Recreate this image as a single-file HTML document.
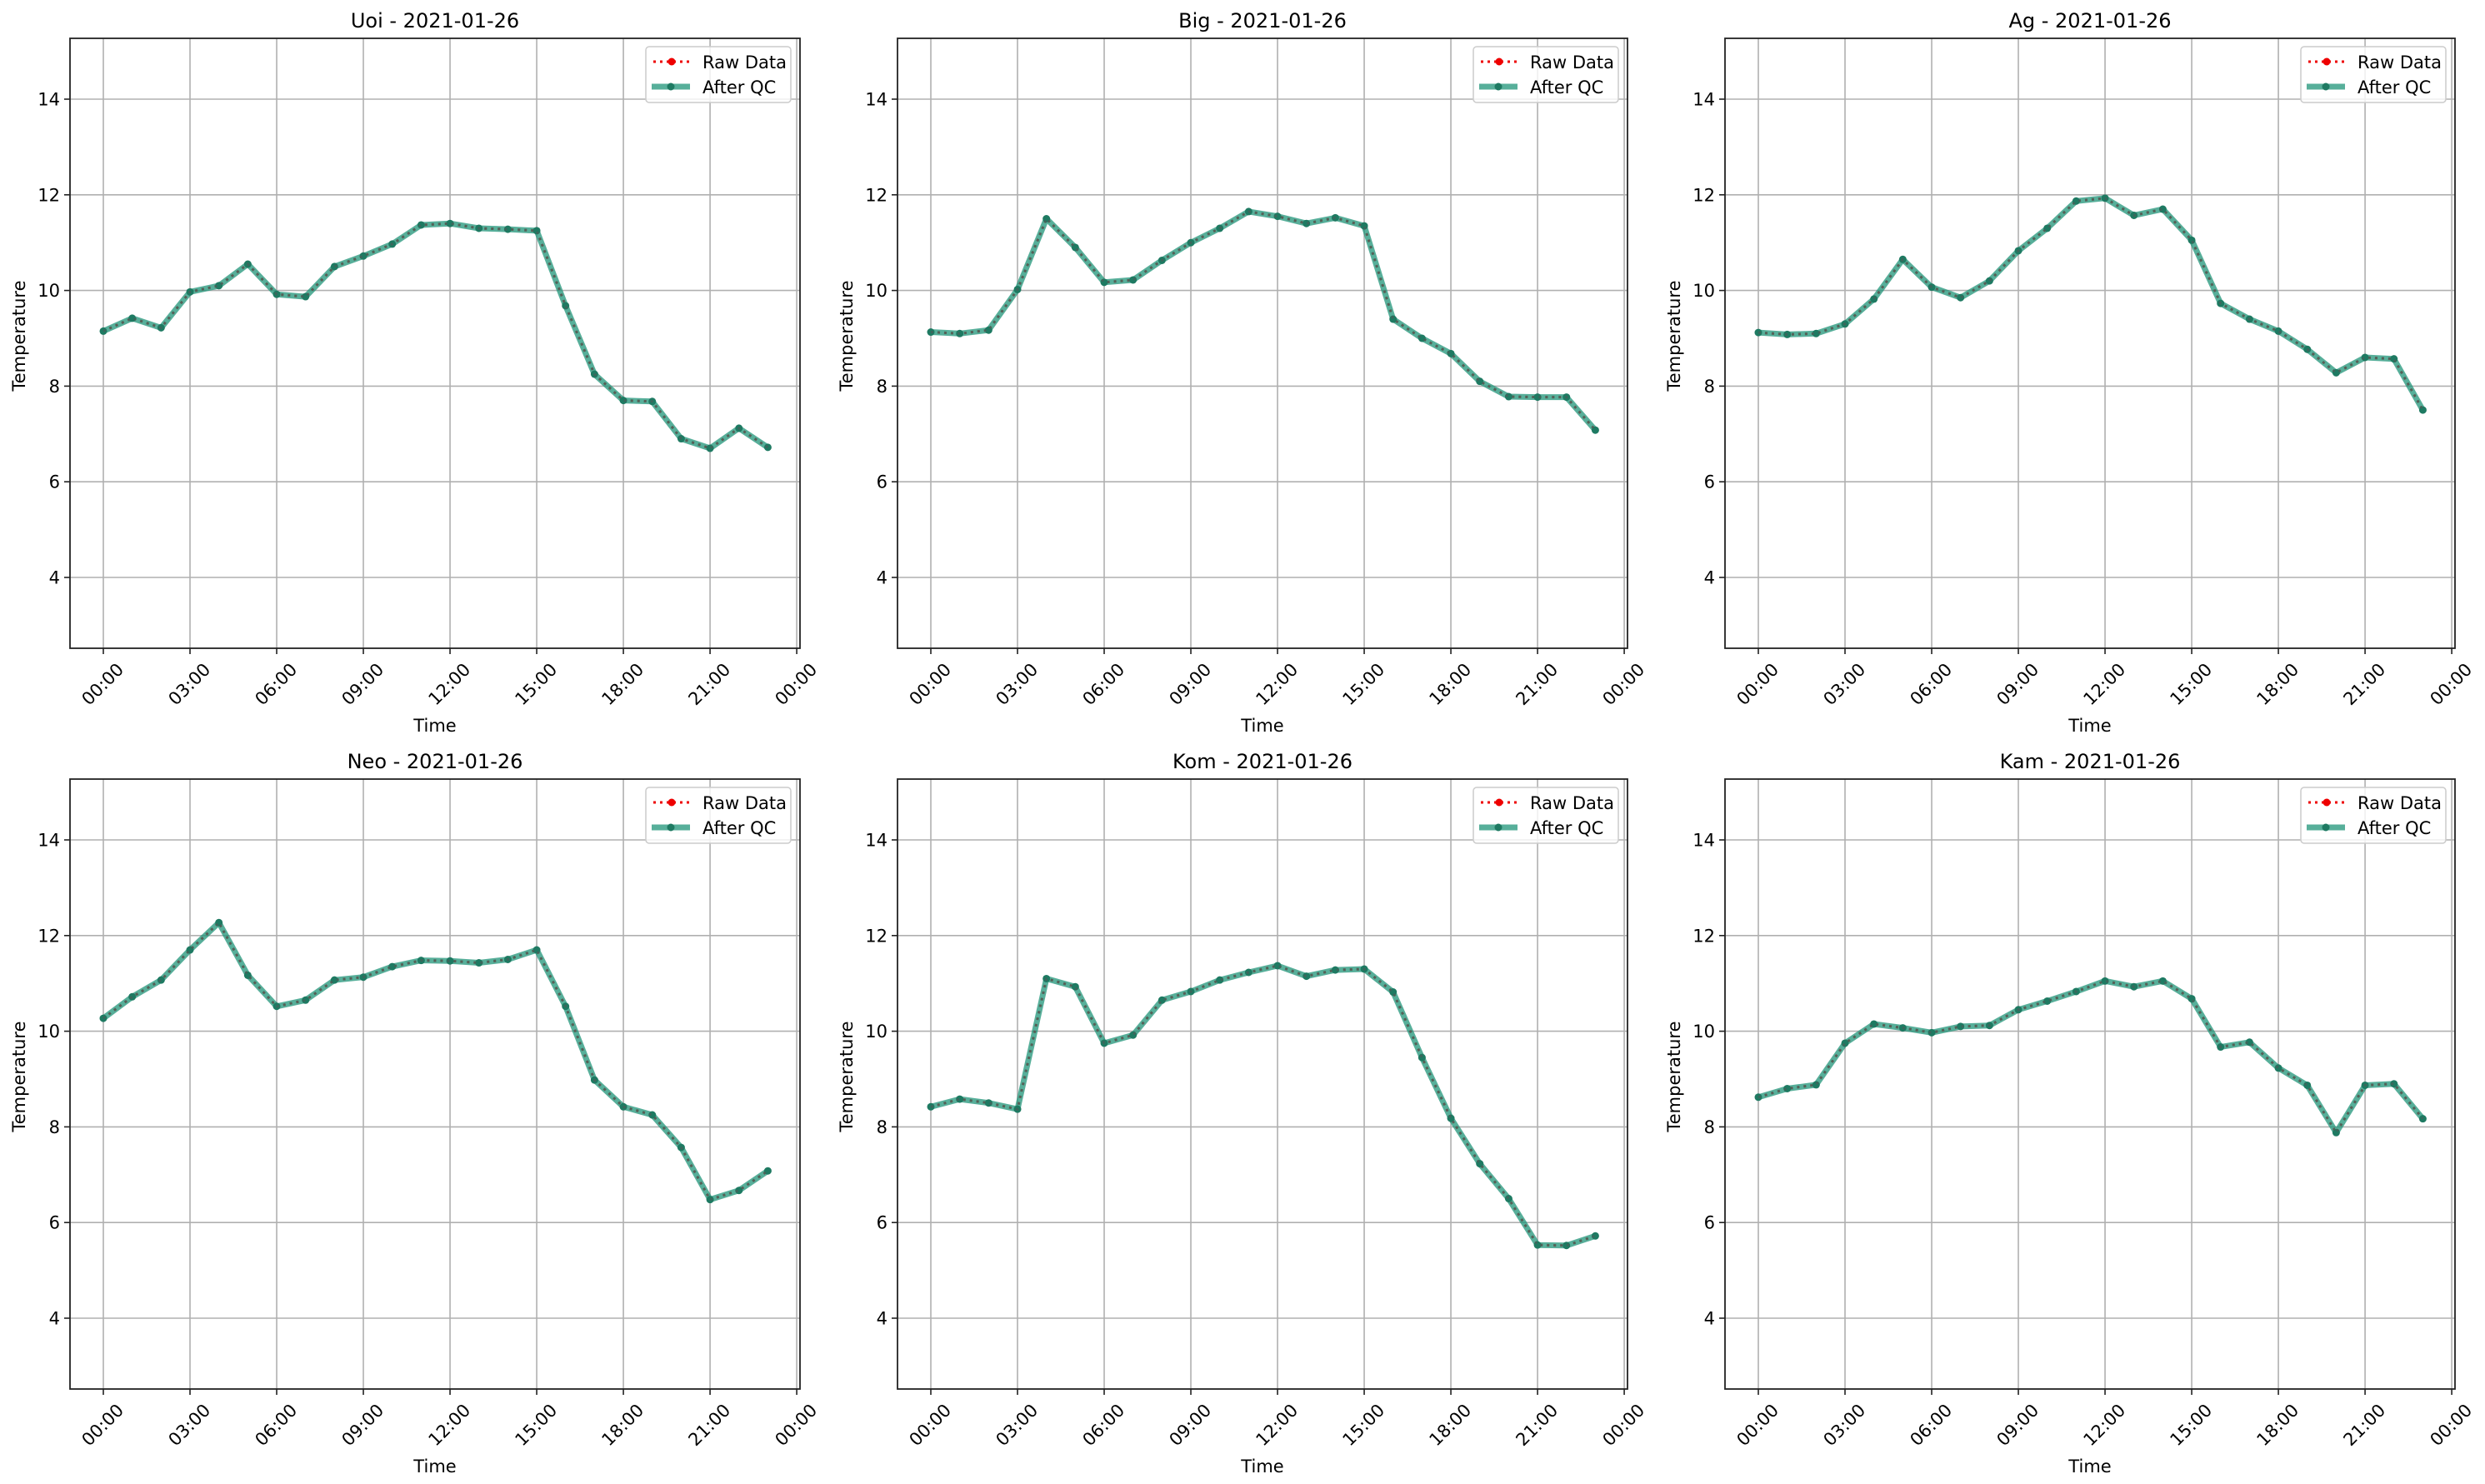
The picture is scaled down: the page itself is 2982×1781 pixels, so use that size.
<!DOCTYPE html>
<html><head><meta charset="utf-8"><style>
html,body{margin:0;padding:0;background:#fff}
svg{display:block;font-family:"DejaVu Sans","Liberation Sans",sans-serif}
</style></head><body>
<svg id="s" width="2982" height="1781" xmlns="http://www.w3.org/2000/svg"></svg>
<script>
const D={
"Uoi":[9.15,9.42,9.22,9.97,10.1,10.55,9.92,9.87,10.5,10.72,10.97,11.37,11.4,11.3,11.28,11.25,9.68,8.25,7.7,7.68,6.9,6.7,7.12,6.72],
"Big":[9.13,9.1,9.17,10.02,11.5,10.9,10.17,10.22,10.63,11.0,11.3,11.65,11.55,11.4,11.52,11.35,9.4,9.0,8.68,8.1,7.78,7.77,7.77,7.08],
"Ag":[9.12,9.08,9.1,9.3,9.82,10.65,10.07,9.85,10.2,10.83,11.3,11.87,11.93,11.57,11.7,11.05,9.73,9.4,9.15,8.77,8.28,8.6,8.57,7.5],
"Neo":[10.27,10.72,11.07,11.7,12.27,11.17,10.52,10.65,11.07,11.13,11.35,11.48,11.47,11.43,11.5,11.7,10.52,8.98,8.42,8.25,7.57,6.48,6.67,7.08],
"Kom":[8.42,8.58,8.5,8.37,11.1,10.93,9.75,9.92,10.65,10.83,11.07,11.23,11.37,11.15,11.28,11.3,10.82,9.45,8.18,7.23,6.5,5.53,5.52,5.72],
"Kam":[8.62,8.8,8.88,9.75,10.15,10.07,9.97,10.1,10.12,10.45,10.63,10.83,11.05,10.93,11.05,10.68,9.67,9.77,9.23,8.87,7.88,8.87,8.9,8.17]};
const names=Object.keys(D);let h='';
const W=876,H=732,lefts=[84,1077,2070],tops=[46,935];
names.forEach((n,i)=>{
 const L=lefts[i%3],T=tops[Math.floor(i/3)],R=L+W,B=T+H;
 const X=t=>L+40+t*34.67, Y=v=>T+73+(14-v)*57.4;
 // grid
 for(let k=0;k<=8;k++){const x=X(k*3);h+=`<line x1="${x}" y1="${T}" x2="${x}" y2="${B}" stroke="#b0b0b0" stroke-width="1.6"/><line x1="${x}" y1="${B}" x2="${x}" y2="${B+7}" stroke="#222" stroke-width="1.6"/>`;
  const lab=(k==8?'00':String(k*3).padStart(2,'0'))+':00';
  h+=`<text x="${x}" y="${B+44}" font-size="21" text-anchor="middle" dominant-baseline="middle" transform="rotate(-45 ${x} ${B+44})">${lab}</text>`;}
 for(let v=4;v<=14;v+=2){const y=Y(v);h+=`<line x1="${L}" y1="${y}" x2="${R}" y2="${y}" stroke="#b0b0b0" stroke-width="1.6"/><line x1="${L-7}" y1="${y}" x2="${L}" y2="${y}" stroke="#222" stroke-width="1.6"/><text x="${L-12}" y="${y+7.5}" font-size="21" text-anchor="end">${v}</text>`;}
 const pts=D[n].map((v,t)=>X(t).toFixed(1)+','+Y(v).toFixed(1)).join(' ');
 h+=`<polyline points="${pts}" fill="none" stroke="#e00" stroke-width="3" stroke-dasharray="3,5"/>`;
 D[n].forEach((v,t)=>h+=`<circle cx="${X(t)}" cy="${Y(v)}" r="4" fill="#e00"/>`);
 h+=`<polyline points="${pts}" fill="none" stroke="#1f9478" stroke-opacity="0.75" stroke-width="7" stroke-linejoin="round"/>`;
 D[n].forEach((v,t)=>h+=`<circle cx="${X(t)}" cy="${Y(v)}" r="4.5" fill="#1e7a62"/>`);
 h+=`<polyline points="${pts}" fill="none" stroke="#555" stroke-opacity="0.55" stroke-width="3" stroke-dasharray="3,5"/>`;
 h+=`<rect x="${L}" y="${T}" width="${W}" height="${H}" fill="none" stroke="#222" stroke-width="1.8"/>`;
 h+=`<text x="${L+W/2}" y="${T-13}" font-size="24" text-anchor="middle">${n} - 2021-01-26</text>`;
 h+=`<text x="${L+W/2}" y="${B+100}" font-size="21" text-anchor="middle">Time</text>`;
 h+=`<text x="0" y="0" font-size="21" text-anchor="middle" transform="translate(${L-54} ${T+H/2-9}) rotate(-90)">Temperature</text>`;
 // legend
 const lx=R-185,ly=T+10;
 h+=`<rect x="${lx}" y="${ly}" width="174" height="67" rx="4" fill="#fff" fill-opacity="0.8" stroke="#ccc" stroke-width="1.5"/>`;
 h+=`<line x1="${lx+9}" y1="${ly+18}" x2="${lx+53}" y2="${ly+18}" stroke="#e00" stroke-width="3" stroke-dasharray="3,5"/><circle cx="${lx+31}" cy="${ly+18}" r="4.5" fill="#e00"/>`;
 h+=`<text x="${lx+68}" y="${ly+26}" font-size="21">Raw Data</text>`;
 h+=`<line x1="${lx+7}" y1="${ly+48}" x2="${lx+53}" y2="${ly+48}" stroke="#1f9478" stroke-opacity="0.75" stroke-width="7"/><circle cx="${lx+30}" cy="${ly+48}" r="4.5" fill="#1e7a62"/>`;
 h+=`<text x="${lx+68}" y="${ly+56}" font-size="21">After QC</text>`;
});
document.getElementById('s').innerHTML=h;
</script>
</body></html>
